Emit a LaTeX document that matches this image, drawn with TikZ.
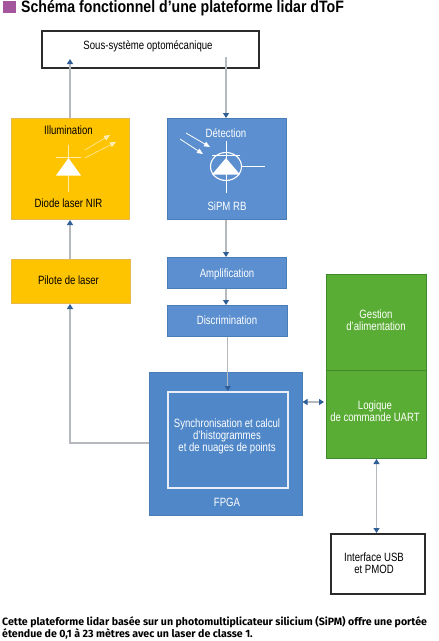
\documentclass[tikz,border=0pt]{standalone}
\usepackage{fontspec}
\setmainfont{Liberation Sans}
\newfontfamily\cond[FakeStretch=0.8]{Liberation Sans}
\newfontfamily\titlef[FakeStretch=0.855]{Liberation Sans}
\newfontfamily\capf{Fira Sans}
\usetikzlibrary{arrows.meta,positioning,calc}
\definecolor{ybox}{HTML}{FFC400}
\definecolor{yedge}{HTML}{E8B94A}
\definecolor{bbox}{HTML}{5B8FCF}
\definecolor{bedge}{HTML}{4A7DB8}
\definecolor{fbox}{HTML}{4F87C8}
\definecolor{gbox}{HTML}{5AAD34}
\definecolor{gedge}{HTML}{3F8A2A}
\definecolor{conn}{HTML}{B5B9BE}
\definecolor{tipc}{HTML}{2F5F96}
\definecolor{purp}{HTML}{A4569C}
\definecolor{blk}{HTML}{2B2B2B}
\tikzset{
  x=1pt,y=-1pt,
  wh/.style 2 args={minimum width=#1pt,minimum height=#2pt},
  lab/.style={font=\cond\fontsize{12}{12.2}\selectfont,align=center,inner sep=0pt},
  box/.style={draw,line width=1pt,inner sep=0pt,anchor=north west},
  whitebox/.style={box,draw=blk,line width=1.5pt,fill=white},
  yellowbox/.style={box,draw=yedge,fill=ybox},
  bluebox/.style={box,draw=bedge,fill=bbox},
  fpgabox/.style={box,draw=bedge,fill=fbox},
  greenbox/.style={box,draw=gedge,fill=gbox},
  conx/.style={draw=conn,line width=1.1pt,-{Triangle[length=5pt,width=6pt,fill=tipc,color=tipc]}},
  conxd/.style={draw=conn,line width=1.1pt,{Triangle[length=5pt,width=6pt,fill=tipc,color=tipc]}-{Triangle[length=5pt,width=6pt,fill=tipc,color=tipc]}},
  sym/.style={white,line width=0.8pt},
  symy/.style={draw=white,line width=0.6pt,opacity=0.65},
}
\begin{document}
\begin{tikzpicture}
\useasboundingbox (0,0) rectangle (439,641);
\fill[purp] (3,1) rectangle (16,13);
\node[anchor=west,inner sep=0pt,font=\titlef\bfseries\fontsize{16.5}{18}\selectfont] (title) at (21,8) {Schéma fonctionnel d’une plateforme lidar dToF};

\node[whitebox,wh={217}{37}] (opto) at (41,30) {};
\node[lab] (optol) at (148,46) {Sous-système optomécanique};

\node[yellowbox,wh={118}{101}] (illu) at (11,118) {};
\node[lab] (illul) at (68.5,130) {Illumination};
\node[lab] (diodel) at (68.5,203) {Diode laser NIR};
\node[bluebox,wh={119}{101}] (det) at (167,118) {};
\node[lab,white] (detl) at (226,133) {Détection};
\node[lab,white] (sipml) at (227,206) {SiPM RB};

\node[yellowbox,wh={119}{44}] (pil) at (10.5,259) {};
\node[lab] (pill) at (68.5,280.5) {Pilote de laser};
\node[bluebox,wh={119}{31}] (amp) at (167,257) {};
\node[lab,white] (ampl) at (227,274.5) {Amplification};
\node[bluebox,wh={120}{31}] (disc) at (167,305) {};
\node[lab,white] (discl) at (227,320) {Discrimination};

\node[fpgabox,wh={153}{143}] (fpga) at (149,372) {};
\node[box,draw=white!85!fbox,line width=1.5pt,fill=fbox,wh={120}{96}] (sync) at (167,391) {};
\node[lab,white] (syncl) at (227,436.5) {Synchronisation et calcul\\d’histogrammes\\et de nuages de points};
\node[lab,white] (fpgal) at (227,502) {FPGA};

\node[greenbox,wh={100}{96}] (gest) at (326,274) {};
\node[lab,white] (gestl) at (376,320.5) {Gestion\\d’alimentation};
\node[greenbox,wh={100}{88}] (uart) at (326,370) {};
\node[lab,white] (uartl) at (375,411) {Logique\\de commande UART};
\node[whitebox,wh={94}{60}] (usb) at (330,533) {};
\node[lab] (usbl) at (374,563) {Interface USB\\et PMOD};

\coordinate (optoup) at (70,59);
\coordinate (optodown) at (226,57);
\draw[conx] (illu.north -| optoup) -- (optoup);
\draw[conx] (optodown) -- (optodown |- det.north);
\draw[conx] (pil.north -| optoup) -- (illu.south -| optoup);
\draw[conx] (det.south -| optodown) -- (amp.north -| optodown);
\draw[conx] (amp.south -| optodown) -- (disc.north -| optodown);
\draw[conx] (disc.south -| sync.north) -- (sync.north);
\coordinate (fout) at (149,443);
\draw[conx] (fout) -- (optoup |- fout) -- (optoup |- pil.south);
\coordinate (dbll) at (302.5,402);
\coordinate (dblr) at (324,402);
\draw[conxd] (dbll) -- (dblr);
\draw[conxd] (uart.south) -- (usb.north -| uart.south);

% laser diode symbol
\fill[white] (68.5,158) -- (56,175.5) -- (81,175.5) -- cycle;
\draw[symy] (68.5,145) -- (68.5,192);
\draw[symy] (56,157) -- (81,157);
\draw[symy,-{Triangle[length=6pt,width=5pt,fill=white]}] (85,150) -- (110,135);
\draw[symy,-{Triangle[length=6pt,width=5pt,fill=white]}] (85,158) -- (116,142);
% SiPM symbol
\draw[sym,line width=1.1pt] (226,166.5) circle[x radius=15.5pt,y radius=14pt];
\fill[white] (226,158) -- (212,174.5) -- (240,174.5) -- cycle;
\draw[sym] (226,141) -- (226,193);
\draw[sym] (212,155.5) -- (240,155.5);
\draw[sym] (241,166) -- (265,166);
\draw[sym,-{Triangle[length=6pt,width=5pt,fill=white]}] (186,133) -- (210,147);
\draw[sym,-{Triangle[length=6pt,width=5pt,fill=white]}] (180,139) -- (203,154);

\node[anchor=north west,inner sep=0pt,align=left,font=\capf\bfseries\fontsize{10.6}{11.6}\selectfont] (caption) at (2,616.5) {Cette plateforme lidar basée sur un photomultiplicateur silicium (SiPM) offre une portée\\étendue de 0,1 à 23 mètres avec un laser de classe 1.};
\end{tikzpicture}
\end{document}
